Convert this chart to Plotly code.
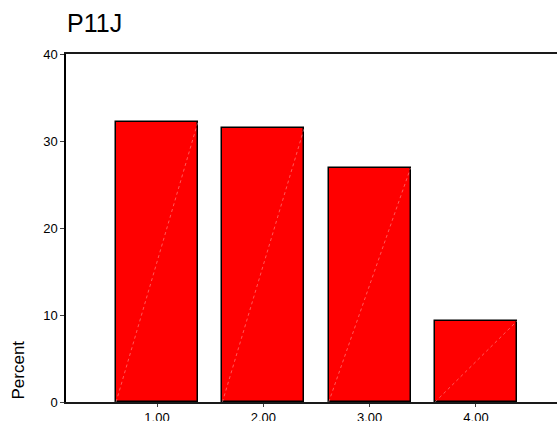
import plotly.graph_objects as go

categories = [1, 2, 3, 4]
tick_labels = ["1.00", "2.00", "3.00", "4.00"]
percent = [32.2, 31.5, 26.9, 9.3]
y_ticks = [0, 10, 20, 30, 40]

BAR_W = 0.77
FONT = "Liberation Sans, Arial, sans-serif"

fig = go.Figure()
fig.add_trace(go.Bar(
    x=categories, y=percent, width=BAR_W,
    marker=dict(color="#FF0000", line=dict(color="#000000", width=1.5)),
    hoverinfo="skip",
))

# faint diagonal artefact inside each bar (derived from data)
for c, v in zip(categories, percent):
    fig.add_shape(type="line", xref="x", yref="y",
                  x0=c - BAR_W / 2, y0=0, x1=c + BAR_W / 2, y1=v,
                  line=dict(color="rgba(255,190,190,0.8)", width=0.6, dash="dot"),
                  layer="above")

fig.update_layout(
    width=557, height=421,
    margin=dict(l=66, r=0, t=54, b=19),
    paper_bgcolor="white", plot_bgcolor="white",
    showlegend=False, bargap=0,
    font=dict(family=FONT, color="#000000", size=13),
    xaxis=dict(
        range=[0.144, 4.762], automargin=False,
        tickmode="array", tickvals=categories, ticktext=tick_labels,
        ticks="outside", ticklen=3, tickcolor="#404040", tickwidth=1,
        showline=True, linecolor="#1a1a1a", linewidth=1.5, mirror=True,
        showgrid=False, zeroline=False,
        tickfont=dict(size=13, family=FONT),
    ),
    yaxis=dict(
        range=[0, 40], automargin=False,
        tickmode="array", tickvals=y_ticks,
        ticks="outside", ticklen=4, tickcolor="#404040", tickwidth=1,
        showline=True, linecolor="#000000", linewidth=1.5,
        showgrid=False, zeroline=False,
        tickfont=dict(size=13, family=FONT),
    ),
    annotations=[
        dict(text="P11J", xref="paper", yref="paper", x=0, y=1,
             xanchor="left", yanchor="bottom", yshift=15, xshift=-1,
             showarrow=False, font=dict(size=25, family=FONT, color="#000000")),
        dict(text="Percent", xref="paper", yref="paper", x=0, y=0,
             xanchor="center", yanchor="bottom", xshift=-48,
             textangle=-90, showarrow=False,
             font=dict(size=17, family=FONT, color="#000000")),
    ],
)

fig.write_html("out.html", config={"displayModeBar": False},
               post_script="document.body.style.margin='0';document.body.style.overflow='hidden';")
